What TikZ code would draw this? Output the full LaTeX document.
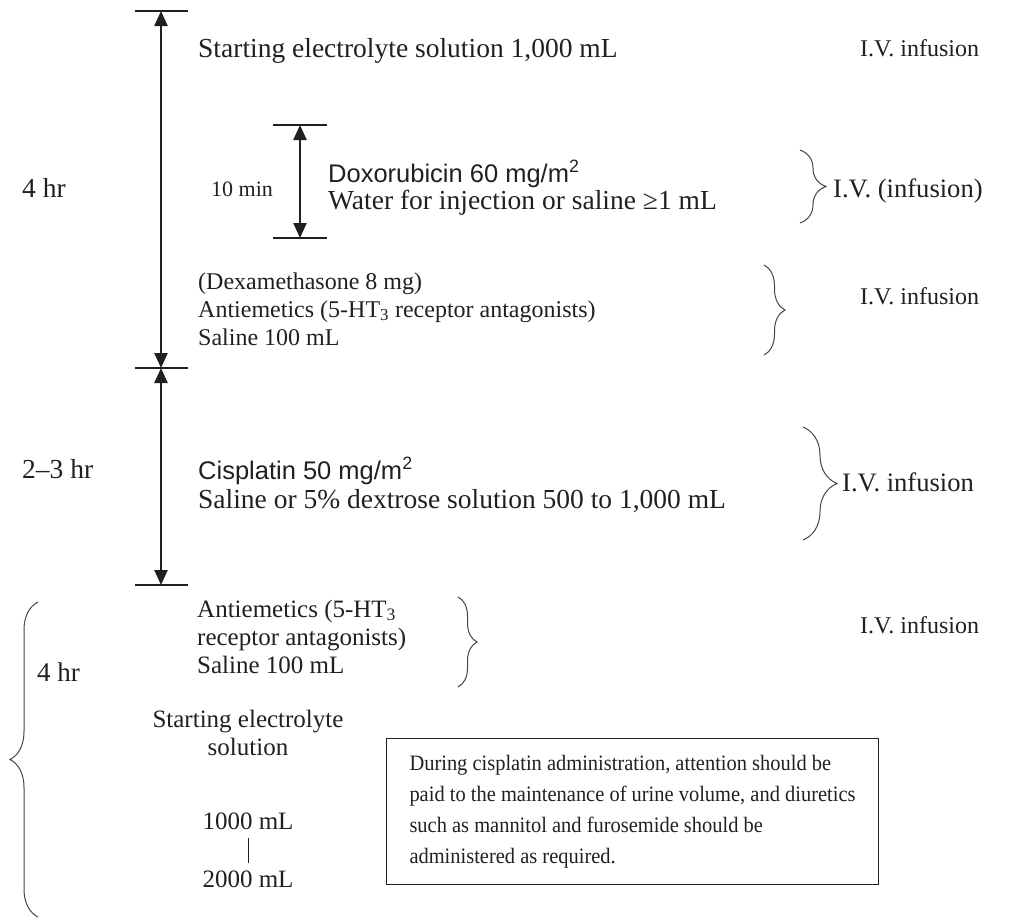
\documentclass[tikz,border=0pt]{standalone}
\usepackage{fontspec}
\setmainfont{Liberation Serif}
\newfontfamily\sansf{Liberation Sans}
\newfontfamily\notefont{Liberation Serif}[FakeStretch=0.93]
\usetikzlibrary{arrows.meta,decorations.pathreplacing}
\definecolor{ink}{HTML}{231F20}
\definecolor{bracec}{HTML}{444444}
\tikzset{
  txt/.style={font=\fontsize{24}{28}\selectfont, inner sep=0pt, anchor=base west, text=ink},
  midtxt/.style={font=\fontsize{25}{28}\selectfont, inner sep=0pt, anchor=base west, text=ink},
  bigtxt/.style={font=\fontsize{27.5}{28}\selectfont, inner sep=0pt, anchor=base west, text=ink},
  ivbig/.style={font=\fontsize{26.6}{28}\selectfont, inner sep=0pt, anchor=base west, text=ink},
  ctxt/.style={font=\fontsize{25}{28}\selectfont, inner sep=0pt, anchor=base, text=ink},
  stxt/.style={font=\sansf\fontsize{25.5}{28}\selectfont, inner sep=0pt, anchor=base west, text=ink},
  tick/.style={draw=ink, line width=1.6pt},
  timearrow/.style={draw=ink, line width=2.4pt, {Triangle[length=15pt,width=13pt]}-{Triangle[length=15pt,width=13pt]}},
  bracer/.style={draw=bracec, line width=1pt, decorate, decoration={brace, amplitude=#1}},
  notebox/.style={draw=ink, line width=1pt, inner xsep=20pt, inner ysep=0pt, minimum width=492pt, minimum height=146pt, align=left, anchor=north west, font=\notefont\fontsize{22}{31}\selectfont, text=ink}
}
\begin{document}
\begin{tikzpicture}[x=1pt,y=-1pt]
\useasboundingbox (0,0) rectangle (1034,918);

% main time axis
\coordinate (t0l) at (135,11);  \coordinate (t0r) at (188,11);
\coordinate (t1l) at (135,368); \coordinate (t1r) at (188,368);
\coordinate (t2l) at (135,585); \coordinate (t2r) at (188,585);
\coordinate (a0) at (161,11); \coordinate (a1) at (161,368); \coordinate (a2) at (161,585);
\draw[tick] (t0l) -- (t0r);
\draw[tick] (t1l) -- (t1r);
\draw[tick] (t2l) -- (t2r);
\draw[timearrow] (a0) -- (a1);
\draw[timearrow] (a1) -- (a2);

% inner 10 min axis
\coordinate (i0l) at (273,125); \coordinate (i0r) at (327,125);
\coordinate (i1l) at (273,238); \coordinate (i1r) at (327,238);
\coordinate (b0) at (300,125); \coordinate (b1) at (300,238);
\draw[tick] (i0l) -- (i0r);
\draw[tick] (i1l) -- (i1r);
\draw[timearrow] (b0) -- (b1);

% texts, top section
\node[bigtxt] (start1) at (198,57) {Starting electrolyte solution 1,000 mL};
\node[txt] (iv1) at (860,56) {I.V. infusion};
\node[bigtxt] (h4a) at (22,197) {4 hr};
\node[font=\fontsize{22}{28}\selectfont, inner sep=0pt, anchor=base west, text=ink] (m10) at (211,196) {10 min};
\node[stxt] (doxo) at (328,182) {Doxorubicin 60 mg/m\textsuperscript{2}};
\node[bigtxt] (water) at (328,209) {Water for injection or saline ≥1 mL};
\node[ivbig] (iv2) at (833,197) {I.V. (infusion)};
\draw[bracer=26pt] (800,150) -- (800,223);

\node[txt] (dexa) at (198,289) {(Dexamethasone 8 mg)};
\node[txt] (anti1) at (198,317) {Antiemetics (5-HT\textsubscript{3} receptor antagonists)};
\node[txt] (sal1) at (198,345) {Saline 100 mL};
\node[txt] (iv3) at (860,304) {I.V. infusion};
\draw[bracer=21pt] (764,265) -- (764,355);

% cisplatin section
\node[bigtxt] (h23) at (22,478) {2–3 hr};
\node[stxt] (cis) at (198,479) {Cisplatin 50 mg/m\textsuperscript{2}};
\node[bigtxt] (sal2) at (198,508) {Saline or 5\% dextrose solution 500 to 1,000 mL};
\node[ivbig] (iv4) at (842,491) {I.V. infusion};
\draw[bracer=34pt] (803,427) -- (803,540);

% post section
\draw[bracer=28pt] (38,917) -- (38,602);
\node[font=\fontsize{27}{28}\selectfont, inner sep=0pt, anchor=base west, text=ink] (h4b) at (37,681) {4 hr};
\node[midtxt] (anti2) at (197,617) {Antiemetics (5-HT\textsubscript{3}};
\node[midtxt] (rec2) at (197,645) {receptor antagonists)};
\node[midtxt] (sal3) at (197,673) {Saline 100 mL};
\node[txt] (iv5) at (860,633) {I.V. infusion};
\draw[bracer=19pt] (458,597) -- (458,687);

\node[ctxt] (start2) at (248,727) {Starting electrolyte};
\node[ctxt] (sol2) at (248,755) {solution};
\node[ctxt] (v1000) at (248,829) {1000 mL};
\node[ctxt] (v2000) at (248,887) {2000 mL};
\draw[draw=ink, line width=0.8pt] ([yshift=-9pt]v1000.south) -- ([yshift=7pt]v2000.north);

\node[notebox] (note) at (386,738) {During cisplatin administration, attention should be\\paid to the maintenance of urine volume, and diuretics\\such as mannitol and furosemide should be\\administered as required.};
\end{tikzpicture}
\end{document}
